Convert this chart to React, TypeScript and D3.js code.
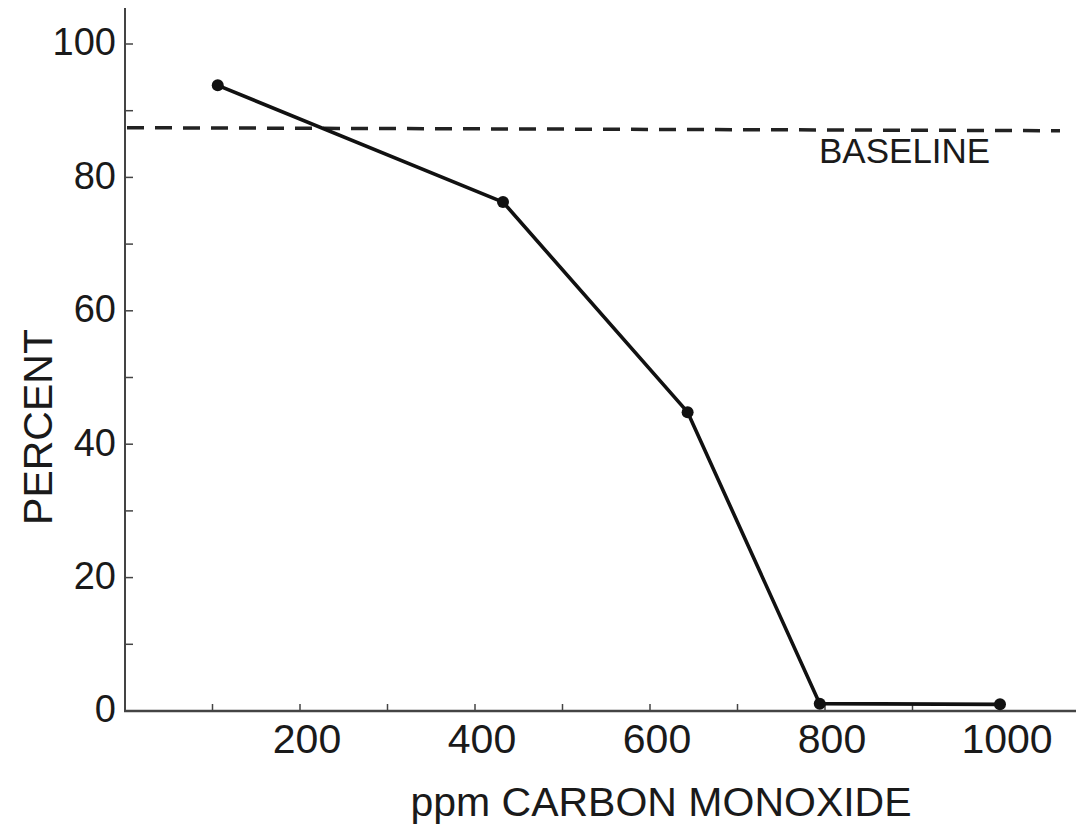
import React, { useEffect, useRef } from "react";
import * as d3 from "d3";

const ppm = [106, 432, 643, 794, 1000];
const percent = [93.8, 76.3, 44.8, 1.1, 1.0];
const baselineValue = 87.3;
const xTickLabels = [200, 400, 600, 800, 1000];
const xMinorTicks = [100, 200, 300, 400, 500, 600, 700, 800, 900, 1000];
const yTickLabels = [0, 20, 40, 60, 80, 100];
const yMinorTicks = [10, 20, 30, 40, 50, 60, 70, 80, 90, 100];

const W = 1076;
const H = 825;

export default function App() {
  const ref = useRef<SVGSVGElement>(null);

  useEffect(() => {
    const svg = d3.select(ref.current);
    svg.selectAll("*").remove();

    const x = d3.scaleLinear().domain([0, 1000]).range([125, 1000]);
    const y = d3.scaleLinear().domain([0, 100]).range([711, 44]);
    const font = "'Liberation Sans', Arial, sans-serif";
    const ink = "#1a1a1a";

    // axes lines
    svg.append("line").attr("x1", 125).attr("x2", 125).attr("y1", 8).attr("y2", y(0) + 1)
      .attr("stroke", "#444").attr("stroke-width", 2);
    svg.append("line").attr("x1", 124).attr("x2", W).attr("y1", y(0)).attr("y2", y(0))
      .attr("stroke", "#444").attr("stroke-width", 2.5);

    // y minor ticks (to the right of the axis)
    svg.append("g").selectAll("line").data(yMinorTicks).join("line")
      .attr("x1", 125).attr("x2", 133)
      .attr("y1", d => y(d)).attr("y2", d => y(d))
      .attr("stroke", "#444").attr("stroke-width", 1.5);

    // x minor ticks (upward)
    svg.append("g").selectAll("line").data(xMinorTicks).join("line")
      .attr("x1", d => x(d)).attr("x2", d => x(d))
      .attr("y1", y(0)).attr("y2", y(0) - 7)
      .attr("stroke", "#444").attr("stroke-width", 1.5);

    // y tick labels
    svg.append("g").selectAll("text").data(yTickLabels).join("text")
      .attr("x", 116).attr("y", d => y(d))
      .attr("dy", "0.3em")
      .attr("text-anchor", "end")
      .attr("font-family", font).attr("font-size", 38).attr("fill", ink)
      .text(d => String(d));

    // x tick labels
    svg.append("g").selectAll("text").data(xTickLabels).join("text")
      .attr("x", d => x(d) + 7).attr("y", 753)
      .attr("text-anchor", "middle")
      .attr("font-family", font).attr("font-size", 41).attr("fill", ink)
      .text(d => String(d));

    // axis titles
    svg.append("text")
      .attr("transform", `translate(52,427) rotate(-90)`)
      .attr("text-anchor", "middle")
      .attr("font-family", font).attr("font-size", 41).attr("fill", ink)
      .text("PERCENT");
    svg.append("text")
      .attr("x", 661).attr("y", 816)
      .attr("text-anchor", "middle")
      .attr("font-family", font).attr("font-size", 41).attr("fill", ink)
      .text("ppm CARBON MONOXIDE");

    // baseline
    svg.append("line")
      .attr("x1", 127).attr("x2", 1060)
      .attr("y1", y(baselineValue) - 1).attr("y2", y(baselineValue) + 2)
      .attr("stroke", "#222").attr("stroke-width", 3.5)
      .attr("stroke-dasharray", "17,11");
    svg.append("text")
      .attr("x", 819).attr("y", 163)
      .attr("font-family", font).attr("font-size", 35).attr("fill", ink)
      .text("BASELINE");

    // data line
    const pts = ppm.map((p, i) => [p, percent[i]] as [number, number]);
    const line = d3.line<[number, number]>().x(d => x(d[0])).y(d => y(d[1]));
    svg.append("path").datum(pts).attr("d", line)
      .attr("fill", "none").attr("stroke", "#111").attr("stroke-width", 3.6)
      .attr("stroke-linejoin", "round");
    svg.append("g").selectAll("circle").data(pts).join("circle")
      .attr("cx", d => x(d[0])).attr("cy", d => y(d[1])).attr("r", 6)
      .attr("fill", "#111");
  }, []);

  return (
    <svg ref={ref} width={W} height={H}
      style={{ position: "absolute", left: 0, top: 0, background: "#fff" }} />
  );
}
